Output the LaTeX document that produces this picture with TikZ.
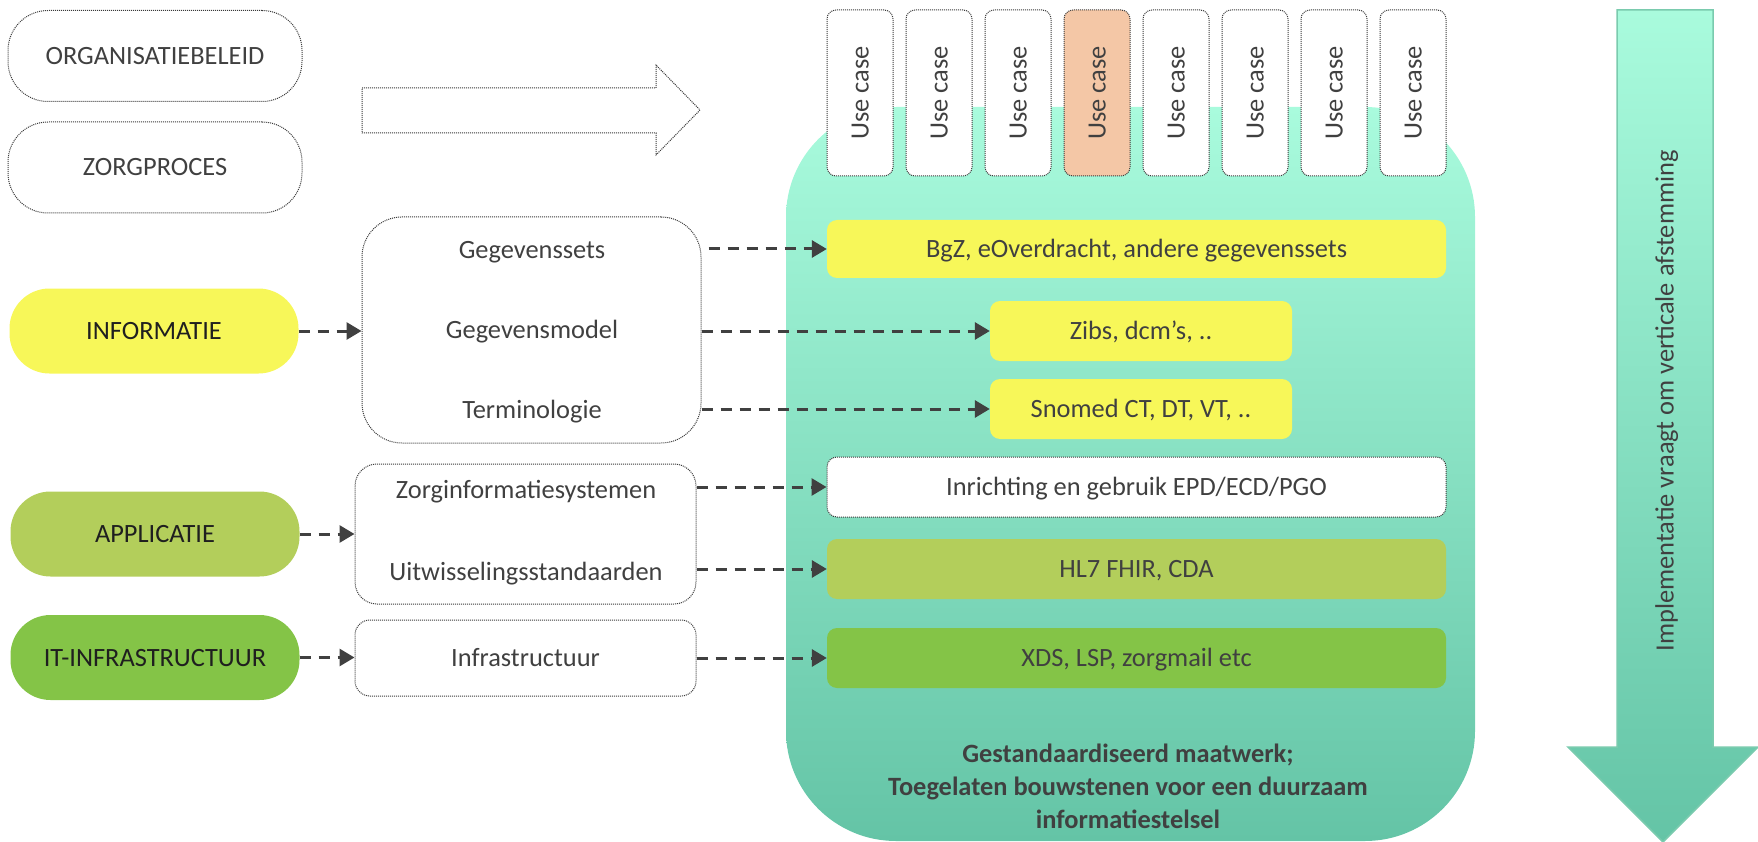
\documentclass[tikz,border=0pt]{standalone}
\usepackage{fontspec}
\setmainfont{Carlito}
\usetikzlibrary{arrows.meta}
\definecolor{txt}{HTML}{404040}
\definecolor{txtd}{HTML}{1F1F1F}
\definecolor{yel}{HTML}{F7F759}
\definecolor{gapp}{HTML}{B3CE5B}
\definecolor{git}{HTML}{84C447}
\definecolor{ora}{HTML}{F4C7A6}
\definecolor{mintA}{HTML}{A9FBDD}
\definecolor{mintB}{HTML}{64C4A6}
\definecolor{dotc}{HTML}{3A3A3A}
\definecolor{arrc}{HTML}{404040}
\definecolor{tealb}{HTML}{7ACBAE}
\begin{document}
\begin{tikzpicture}[x=1pt,y=-1pt,
  lbl/.style={font=\fontsize{26.4}{32}\selectfont, text=txt, text height=17pt, text depth=0pt, inner sep=0pt},
  dotb/.style={draw=dotc, line width=1pt, dash pattern=on 1pt off 1pt},
  capsule/.style={lbl, text=txtd, fill=#1, rounded corners=40pt, minimum width=289pt, minimum height=85pt},
  rbox/.style={lbl, fill=#1, rounded corners=10pt, minimum height=59pt},
  ucbox/.style={lbl, dotb, rounded corners=9pt, minimum width=166pt, minimum height=66pt, rotate=90},
  dar/.style={draw=arrc, line width=3pt, dash pattern=on 11pt off 8pt, -{Triangle[length=15pt,width=17pt]}}
]
\useasboundingbox (0,0) rectangle (1758,842);

% big teal base
\node[top color=mintA, bottom color=mintB, rounded corners=110pt, minimum width=689pt, minimum height=734pt, inner sep=0pt] (base) at (1130.5,474) {};

% hollow arrow
\draw[dotb, fill=white] (362,88) -- (656,88) -- (656,65) -- (700,110) -- (656,155) -- (656,133) -- (362,133) -- cycle;

% vertical implementation arrow
\shadedraw[top color=mintA, bottom color=mintB, draw=tealb, line width=1.5pt]
  (1617,10) -- (1713,10) -- (1713,747) -- (1758,747) -- (1663,842) -- (1568,747) -- (1617,747) -- cycle;
\node[lbl, rotate=90] (impl) at (1665,401) {Implementatie vraagt om verticale afstemming};

% left column
\node[lbl, dotb, rounded corners=40pt, minimum width=294pt, minimum height=91pt] (org) at (155,56) {ORGANISATIEBELEID};
\node[lbl, dotb, rounded corners=40pt, minimum width=294pt, minimum height=91pt] (zorg) at (155,167.5) {ZORGPROCES};
\node[capsule=yel] (info) at (154,331) {INFORMATIE};
\node[capsule=gapp] (appl) at (155,534) {APPLICATIE};
\node[capsule=git] (itn) at (155,657.5) {IT-INFRASTRUCTUUR};

% middle column
\node[dotb, rounded corners=40pt, minimum width=339pt, minimum height=226pt, inner sep=0pt] (gbox) at (531.5,330) {};
\node[lbl] (gsets) at (532,250) {Gegevenssets};
\node[lbl] (gmodel) at (532,330) {Gegevensmodel};
\node[lbl] (gterm) at (532,410) {Terminologie};
\node[dotb, rounded corners=22pt, minimum width=341pt, minimum height=140pt, inner sep=0pt] (zbox) at (525.5,534) {};
\node[lbl] (zis) at (526,490) {Zorginformatiesystemen};
\node[lbl] (uit) at (526,572) {Uitwisselingsstandaarden};
\node[lbl, dotb, rounded corners=15pt, minimum width=341pt, minimum height=76pt] (ibox) at (525.5,658) {Infrastructuur};

% use cases
\foreach \i in {0,...,7}{
  \ifnum\i=3
    \node[ucbox, fill=ora] (uc\i) at (860+79*\i,93) {Use case};
  \else
    \node[ucbox, fill=white] (uc\i) at (860+79*\i,93) {Use case};
  \fi
}

% right boxes
\node[rbox=yel, minimum width=619pt, minimum height=58pt] (bgz) at (1136.5,249) {BgZ, eOverdracht, andere gegevenssets};
\node[rbox=yel, minimum width=302pt, minimum height=60pt] (zibs) at (1141,331) {Zibs, dcm’s, ..};
\node[rbox=yel, minimum width=302pt, minimum height=60pt] (snomed) at (1141,409) {Snomed CT, DT, VT, ..};
\node[rbox=white, dotb, minimum width=619pt, minimum height=60pt] (inr) at (1136.5,487) {Inrichting en gebruik EPD/ECD/PGO};
\node[rbox=gapp, minimum width=619pt, minimum height=60pt] (hl7) at (1136.5,569) {HL7 FHIR, CDA};
\node[rbox=git, minimum width=619pt, minimum height=60pt] (xds) at (1136.5,658) {XDS, LSP, zorgmail etc};

\node[font=\bfseries\fontsize{26.4}{33}\selectfont, text=txt, align=center, inner sep=0pt] (gm) at (1128,786)
  {Gestandaardiseerd maatwerk;\\Toegelaten bouwstenen voor een duurzaam\\informatiestelsel};

% connectors
\draw[dar] (info.east) -- (gbox.west |- info.east);
\draw[dar] (appl.east) -- (zbox.west |- appl.east);
\draw[dar] (itn.east) -- (ibox.west |- itn.east);
\draw[dar] ([xshift=7pt]gbox.east |- bgz.west) -- (bgz.west);
\draw[dar] (gbox.east |- zibs.west) -- (zibs.west);
\draw[dar] (gbox.east |- snomed.west) -- (snomed.west);
\draw[dar] (zbox.east |- inr.west) -- (inr.west);
\draw[dar] (zbox.east |- hl7.west) -- (hl7.west);
\draw[dar] (ibox.east) -- (xds.west);
\end{tikzpicture}
\end{document}
